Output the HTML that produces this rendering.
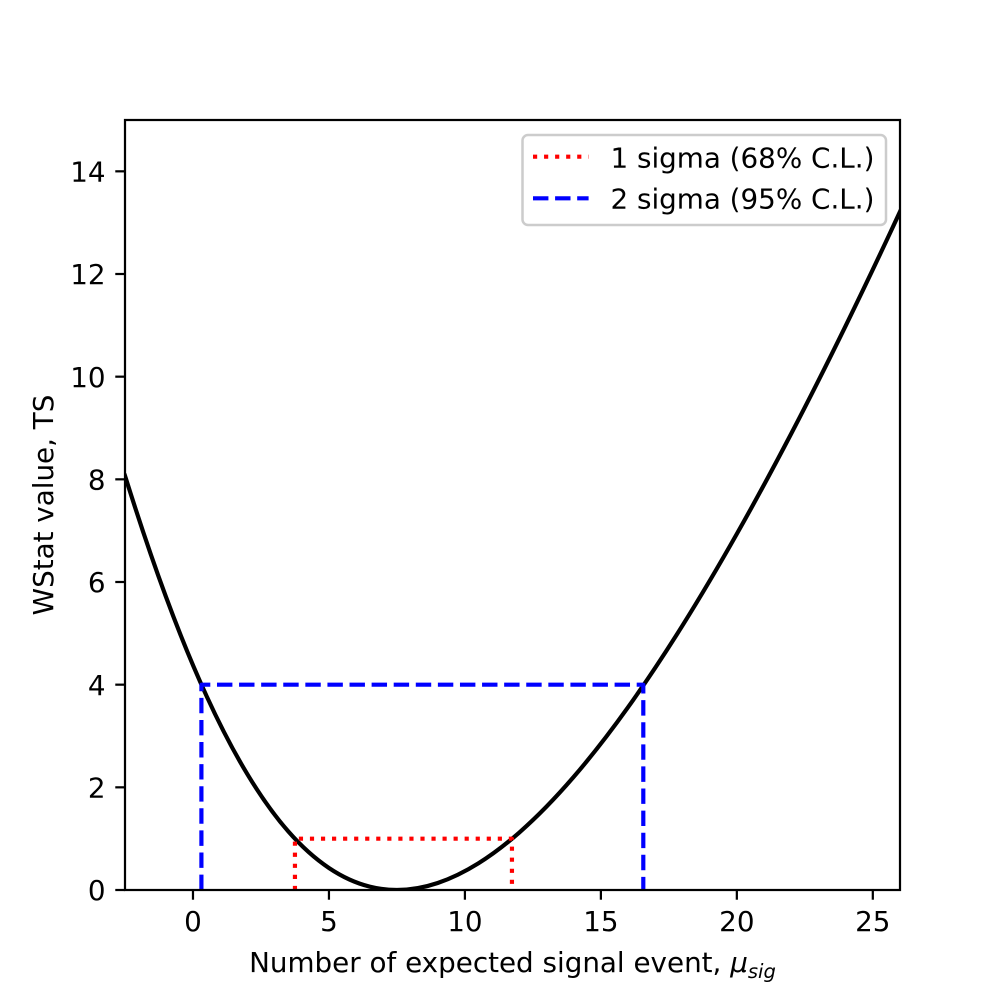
<!DOCTYPE html>
<html>
<head>
<meta charset="utf-8">
<style>
  html, body { margin: 0; padding: 0; background: #ffffff; }
  svg { display: block; }
  text { font-family: "DejaVu Sans", "Liberation Sans", sans-serif; fill: #000; }
</style>
</head>
<body>
<svg width="1000" height="1000" viewBox="0 0 1000 1000" xmlns="http://www.w3.org/2000/svg">
  <rect x="0" y="0" width="1000" height="1000" fill="#ffffff"/>
  <defs>
    <clipPath id="ax">
      <rect x="125" y="120" width="775" height="770"/>
    </clipPath>
  </defs>

  <g clip-path="url(#ax)">
    <!-- WStat curve -->
    <path fill="none" stroke="#000" stroke-width="4.17" stroke-linejoin="round" stroke-linecap="square"
      d="M125.00,475.74
         C138.60,519.22 152.19,559.58 165.79,596.38
         C179.39,633.18 192.98,666.37 206.58,696.06
         C220.18,725.75 233.77,751.71 247.37,774.19
         C260.97,796.67 274.56,815.73 288.16,831.27
         C301.76,846.81 315.35,858.85 328.95,867.98
         C342.55,877.11 356.13,883.22 369.73,886.64
         C378.79,888.92 387.87,890.00 396.93,890.00
         C410.53,890.00 424.12,887.56 437.72,883.00
         C451.32,878.44 464.91,871.76 478.51,863.26
         C492.11,854.76 505.70,844.42 519.30,832.51
         C537.43,816.63 555.55,797.94 573.68,776.91
         C591.81,755.88 609.94,732.54 628.07,707.20
         C646.20,681.86 664.32,654.55 682.45,625.58
         C700.58,596.61 718.71,565.96 736.84,533.90
         C754.97,501.84 773.10,468.38 791.23,433.65
         C809.36,398.92 827.48,362.93 845.61,325.90
         C863.74,288.87 881.87,250.74 900.00,211.68"/>
    <!-- 1 sigma -->
    <path fill="none" stroke="#ff0000" stroke-width="4.17" stroke-dasharray="4.17 6.88" stroke-linejoin="round"
      d="M294.95,890 L294.95,838.67 L511.95,838.67 L511.95,890"/>
    <!-- 2 sigma -->
    <path fill="none" stroke="#0000ff" stroke-width="4.17" stroke-dasharray="15.42 6.67" stroke-linejoin="round"
      d="M201.41,890 L201.41,684.67 L643.30,684.67 L643.30,890"/>
  </g>

  <!-- spines -->
  <rect x="125" y="120" width="775" height="770" fill="none" stroke="#000" stroke-width="2.22" stroke-linejoin="miter"/>

  <!-- x ticks -->
  <g stroke="#000" stroke-width="2.22">
    <line x1="192.98" y1="890" x2="192.98" y2="899.72"/>
    <line x1="328.95" y1="890" x2="328.95" y2="899.72"/>
    <line x1="464.91" y1="890" x2="464.91" y2="899.72"/>
    <line x1="600.88" y1="890" x2="600.88" y2="899.72"/>
    <line x1="736.84" y1="890" x2="736.84" y2="899.72"/>
    <line x1="872.81" y1="890" x2="872.81" y2="899.72"/>
  </g>
  <g font-size="27.78" text-anchor="middle">
    <text x="192.98" y="931">0</text>
    <text x="328.95" y="931">5</text>
    <text x="464.91" y="931">10</text>
    <text x="600.88" y="931">15</text>
    <text x="736.84" y="931">20</text>
    <text x="872.81" y="931">25</text>
  </g>

  <!-- y ticks -->
  <g stroke="#000" stroke-width="2.22">
    <line x1="115.28" y1="890" x2="125" y2="890"/>
    <line x1="115.28" y1="787.33" x2="125" y2="787.33"/>
    <line x1="115.28" y1="684.67" x2="125" y2="684.67"/>
    <line x1="115.28" y1="582" x2="125" y2="582"/>
    <line x1="115.28" y1="479.33" x2="125" y2="479.33"/>
    <line x1="115.28" y1="376.67" x2="125" y2="376.67"/>
    <line x1="115.28" y1="274" x2="125" y2="274"/>
    <line x1="115.28" y1="171.33" x2="125" y2="171.33"/>
  </g>
  <g font-size="27.78" text-anchor="end">
    <text x="105.6" y="900.2">0</text>
    <text x="105.6" y="797.5">2</text>
    <text x="105.6" y="694.9">4</text>
    <text x="105.6" y="592.2">6</text>
    <text x="105.6" y="489.5">8</text>
    <text x="105.6" y="386.9">10</text>
    <text x="105.6" y="284.2">12</text>
    <text x="105.6" y="181.5">14</text>
  </g>

  <!-- axis labels -->
  <text x="512.5" y="972" font-size="27.78" text-anchor="middle">Number of expected signal event, <tspan font-style="italic">μ</tspan><tspan font-style="italic" font-size="19.5" dy="6">sig</tspan></text>
  <text transform="translate(53,505) rotate(-90)" x="0" y="0" font-size="27.78" text-anchor="middle">WStat value, TS</text>

  <!-- legend -->
  <rect x="522.5" y="135" width="363.5" height="90" rx="5.5" ry="5.5" fill="#ffffff" fill-opacity="0.8" stroke="#cccccc" stroke-width="2.5"/>
  <line x1="533" y1="156.7" x2="588.6" y2="156.7" stroke="#ff0000" stroke-width="4.17" stroke-dasharray="4.17 6.88"/>
  <line x1="533" y1="198.3" x2="588.6" y2="198.3" stroke="#0000ff" stroke-width="4.17" stroke-dasharray="15.42 6.67"/>
  <text x="610.5" y="167.3" font-size="27.78">1 sigma (68% C.L.)</text>
  <text x="610.5" y="208.3" font-size="27.78">2 sigma (95% C.L.)</text>
</svg>
</body>
</html>
